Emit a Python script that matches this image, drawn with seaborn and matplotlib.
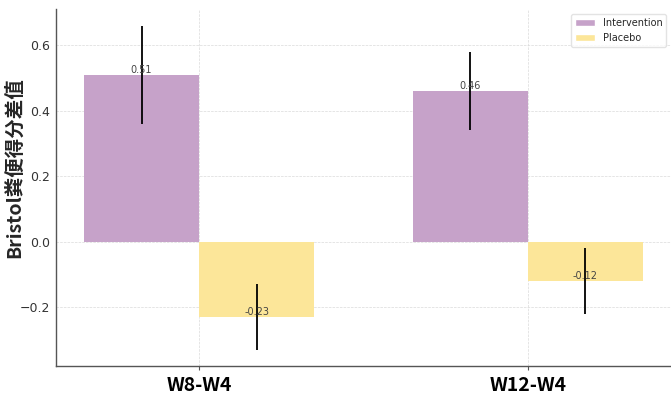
import pandas as pd
import matplotlib
matplotlib.use("Agg")
import matplotlib.pyplot as plt
import seaborn as sns

# values
periods = ["W8-W4", "W12-W4"]
groups = ["Intervention", "Placebo"]
intervention_mean = [0.51, 0.46]
placebo_mean = [-0.23, -0.12]
intervention_err = [0.15, 0.12]
placebo_err = [0.10, 0.10]
group_colors = ["#C6A2C9", "#FCE699"]

df = pd.DataFrame({
    "period": periods * 2,
    "group": [groups[0]] * 2 + [groups[1]] * 2,
    "value": intervention_mean + placebo_mean,
    "err": intervention_err + placebo_err,
})

sns.set_style("whitegrid")
plt.rcParams["axes.unicode_minus"] = True

fig = plt.figure(figsize=(6.71, 3.97), dpi=100)
ax = fig.add_axes([0.0835, 0.078, 0.9165, 0.899])

sns.barplot(data=df, x="period", y="value", hue="group", order=periods,
            hue_order=groups, palette=group_colors, width=0.7,
            errorbar=None, saturation=1, ax=ax)

# error bars and labels at the centre of each bar
for container, grp in zip(ax.containers, groups):
    sub = df[df["group"] == grp].set_index("period").loc[periods]
    for bar, (_, row) in zip(container, sub.iterrows()):
        bar.set_edgecolor("none")
        cx = bar.get_x() + bar.get_width() / 2
        ax.errorbar(cx, row["value"], yerr=row["err"], fmt="none",
                    ecolor="black", elinewidth=1.3, capsize=0, zorder=4)
        ax.text(cx, row["value"], f"{row['value']:.2f}", ha="center",
                va="bottom", fontsize=7, color="#444444", zorder=5)

ax.set_xlim(-0.435, 1.435)
ax.set_ylim(-0.38, 0.71)
ax.set_yticks([-0.2, 0.0, 0.2, 0.4, 0.6])
ax.set_xlabel("")
ax.set_ylabel("Bristol粪便得分差值", fontsize=14, fontweight="bold",
              family=["Noto Sans CJK SC", "DejaVu Sans"])
ax.yaxis.set_label_coords(-0.052, 0.555)

ax.grid(True, linestyle="--", linewidth=0.5, color="#dadada")
ax.set_axisbelow(True)
for side in ["top", "right"]:
    ax.spines[side].set_visible(False)
for side in ["left", "bottom"]:
    ax.spines[side].set_color("#555555")
    ax.spines[side].set_linewidth(1.0)

ax.tick_params(axis="y", labelsize=9, colors="#333333", length=0, pad=4)
ax.tick_params(axis="x", length=3, color="#555555", bottom=True, pad=4)
for lbl in ax.get_xticklabels():
    lbl.set_fontsize(14)
    lbl.set_fontweight("bold")
    lbl.set_family(["Noto Sans CJK SC", "DejaVu Sans"])
    lbl.set_color("black")

leg = ax.legend(loc="upper right", fontsize=7, frameon=True, title=None)
leg.get_frame().set_edgecolor("#dddddd")

fig.savefig("out.png", dpi=100)
